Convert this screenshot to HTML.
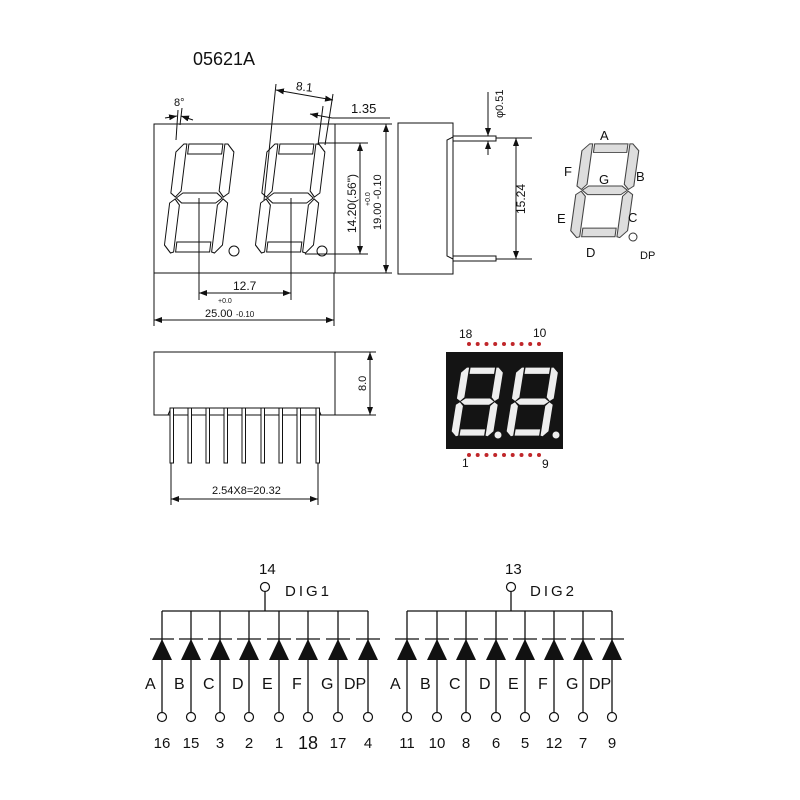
<!DOCTYPE html>
<html><head><meta charset="utf-8"><style>
html,body{margin:0;padding:0;background:#fff;}
svg{display:block;}
text{font-family:"Liberation Sans",sans-serif;fill:#111;}
</style></head><body>
<svg width="800" height="800" viewBox="0 0 800 800" xmlns="http://www.w3.org/2000/svg">
<defs>
<g id="dig">
<polygon points="12,1 46,1 46,11 12,11"/>
<polygon points="0,9 7,1 10,1 10,48 5,54 0,50"/>
<polygon points="58,9 51,1 48,1 48,48 53,54 58,50"/>
<polygon points="6,55 12,50 46,50 52,55 46,60 12,60"/>
<polygon points="0,60 5,56 10,62 10,109 7,110 0,102"/>
<polygon points="58,60 53,56 48,62 48,109 51,110 58,102"/>
<polygon points="12,99 46,99 46,109 12,109"/>
</g>
<g id="diode">
<line x1="0" y1="0" x2="0" y2="101" stroke="#111" stroke-width="1.3"/>
<line x1="-12" y1="28" x2="12" y2="28" stroke="#111" stroke-width="1.3"/>
<polygon points="0,28 -10,49 10,49" fill="#111"/>
<circle cx="0" cy="106" r="4.5" fill="#fff" stroke="#111" stroke-width="1.2"/>
</g>
<marker id="ar" markerWidth="8" markerHeight="6" refX="8" refY="3" orient="auto-start-reverse" markerUnits="userSpaceOnUse"><path d="M0,0 L8,3 L0,6 z" fill="#111"/></marker>
</defs>

<text x="193" y="65" font-size="18">05621A</text>

<!-- front view -->
<g fill="#fff" stroke="#111" stroke-width="1">
<rect x="154" y="124" width="181" height="149"/>
<g transform="translate(177,143) skewX(-7)"><use href="#dig"/></g>
<g transform="translate(268,143) skewX(-7)"><use href="#dig"/></g>
<circle cx="234" cy="251" r="5"/>
<circle cx="322" cy="251" r="5"/>
</g>
<g stroke="#111" stroke-width="1" fill="none">
<line x1="199" y1="198" x2="199" y2="300"/>
<line x1="291" y1="198" x2="291" y2="300"/>
<line x1="199" y1="293" x2="291" y2="293" marker-start="url(#ar)" marker-end="url(#ar)"/>
<line x1="154" y1="273" x2="154" y2="326"/>
<line x1="334" y1="273" x2="334" y2="326"/>
<line x1="154" y1="320" x2="334" y2="320" marker-start="url(#ar)" marker-end="url(#ar)"/>
<line x1="335" y1="124" x2="392" y2="124"/>
<line x1="335" y1="273" x2="392" y2="273"/>
<line x1="386" y1="124" x2="386" y2="273" marker-start="url(#ar)" marker-end="url(#ar)"/>
<line x1="318" y1="143" x2="368" y2="143"/>
<line x1="305" y1="254" x2="368" y2="254"/>
<line x1="360" y1="143" x2="360" y2="254" marker-start="url(#ar)" marker-end="url(#ar)"/>
<line x1="276" y1="84" x2="264" y2="200"/>
<line x1="333" y1="94" x2="325" y2="145"/>
<line x1="276" y1="90" x2="333" y2="100" marker-start="url(#ar)" marker-end="url(#ar)"/>
<line x1="323" y1="106" x2="318" y2="145"/>
<line x1="310" y1="114" x2="332" y2="118" marker-start="url(#ar)"/>
<line x1="332" y1="118" x2="390" y2="118"/>
<line x1="178" y1="110" x2="176" y2="140"/>
<line x1="182" y1="108" x2="180" y2="125"/>
<line x1="165" y1="118" x2="177" y2="116" marker-end="url(#ar)"/>
<line x1="193" y1="120" x2="181" y2="116" marker-end="url(#ar)"/>
</g>
<text x="174" y="106" font-size="11">8°</text>
<text x="296" y="91" font-size="12" transform="rotate(6 305 87)">8.1</text>
<text x="351" y="113" font-size="13">1.35</text>
<text x="233" y="290" font-size="12">12.7</text>
<text x="218" y="303" font-size="7">+0.0</text>
<text x="205" y="317" font-size="11">25.00</text>
<text x="236" y="317" font-size="8">-0.10</text>
<text font-size="12" transform="translate(356,233) rotate(-90)">14.20(.56")</text>
<text font-size="7" transform="translate(370,206) rotate(-90)">+0.0</text>
<text font-size="11" transform="translate(381,230) rotate(-90)">19.00 -0.10</text>

<!-- side view -->
<g stroke="#111" stroke-width="1" fill="none">
<rect x="398" y="123" width="55" height="151" fill="#fff"/>
<path d="M453,137 L447,140 L447,256 L453,259"/>
<path d="M453,136 L496,136 L496,141 L453,141"/>
<path d="M453,256 L496,256 L496,261 L453,261"/>
<line x1="496" y1="138" x2="532" y2="138"/>
<line x1="496" y1="259" x2="532" y2="259"/>
<line x1="516" y1="138" x2="516" y2="259" marker-start="url(#ar)" marker-end="url(#ar)"/>
<line x1="488" y1="92" x2="488" y2="136" marker-end="url(#ar)"/>
<line x1="488" y1="155" x2="488" y2="141" marker-end="url(#ar)"/>
</g>
<text font-size="11" transform="translate(503,118) rotate(-90)">φ0.51</text>
<text font-size="12" transform="translate(525,214) rotate(-90)">15.24</text>

<!-- legend digit -->
<g transform="translate(583,143) scale(0.98,0.86) skewX(-7)" fill="#ddd" stroke="#444" stroke-width="1.1"><use href="#dig"/></g>
<circle cx="633" cy="237" r="4" fill="#fff" stroke="#333"/>
<g font-size="13">
<text x="600" y="140">A</text><text x="564" y="176">F</text><text x="636" y="181">B</text>
<text x="599" y="184">G</text><text x="557" y="223">E</text><text x="628" y="222">C</text>
<text x="586" y="257">D</text><text x="640" y="259" font-size="11">DP</text>
</g>

<!-- bottom view -->
<g stroke="#111" stroke-width="1" fill="none">
<rect x="154" y="352" width="181" height="63" fill="#fff"/>
<line x1="335" y1="352" x2="376" y2="352"/>
<line x1="335" y1="415" x2="376" y2="415"/>
<line x1="370" y1="352" x2="370" y2="415" marker-start="url(#ar)" marker-end="url(#ar)"/>
<path d="M168,415 L171,408 L318,408 L321,415"/>
<g fill="#fff">
<rect x="170" y="408" width="3.5" height="55"/><rect x="188" y="408" width="3.5" height="55"/>
<rect x="206" y="408" width="3.5" height="55"/><rect x="224" y="408" width="3.5" height="55"/>
<rect x="242" y="408" width="3.5" height="55"/><rect x="261" y="408" width="3.5" height="55"/>
<rect x="279" y="408" width="3.5" height="55"/><rect x="297" y="408" width="3.5" height="55"/>
<rect x="316" y="408" width="3.5" height="55"/>
</g>
<line x1="171" y1="463" x2="171" y2="505"/>
<line x1="318" y1="463" x2="318" y2="505"/>
<line x1="171" y1="499" x2="318" y2="499" marker-start="url(#ar)" marker-end="url(#ar)"/>
</g>
<text font-size="11" transform="translate(366,391) rotate(-90)">8.0</text>
<text x="212" y="494" font-size="11">2.54X8=20.32</text>

<!-- photo -->
<rect x="446" y="352" width="117" height="97" fill="#141414"/>
<g fill="#eee">
<g transform="translate(462,367) scale(0.72,0.63) skewX(-8)"><use href="#dig"/></g>
<g transform="translate(517,367) scale(0.72,0.63) skewX(-8)"><use href="#dig"/></g>
<circle cx="498" cy="435" r="3.5"/><circle cx="556" cy="435" r="3.5"/>
</g>
<g fill="#c0262a">
<circle cx="469" cy="344" r="2"/><circle cx="477.7" cy="344" r="2"/><circle cx="486.5" cy="344" r="2"/><circle cx="495.2" cy="344" r="2"/><circle cx="504" cy="344" r="2"/><circle cx="512.7" cy="344" r="2"/><circle cx="521.5" cy="344" r="2"/><circle cx="530.2" cy="344" r="2"/><circle cx="539" cy="344" r="2"/>
<circle cx="469" cy="455" r="2"/><circle cx="477.7" cy="455" r="2"/><circle cx="486.5" cy="455" r="2"/><circle cx="495.2" cy="455" r="2"/><circle cx="504" cy="455" r="2"/><circle cx="512.7" cy="455" r="2"/><circle cx="521.5" cy="455" r="2"/><circle cx="530.2" cy="455" r="2"/><circle cx="539" cy="455" r="2"/>
</g>
<g font-size="12"><text x="459" y="338">18</text><text x="533" y="337">10</text><text x="462" y="467">1</text><text x="542" y="468">9</text></g>

<!-- schematic 1 -->
<g stroke="#111" stroke-width="1.3">
<line x1="162" y1="611" x2="368" y2="611"/>
<line x1="265" y1="592" x2="265" y2="611"/>
<line x1="407" y1="611" x2="612" y2="611"/>
<line x1="511" y1="592" x2="511" y2="611"/>
</g>
<circle cx="265" cy="587" r="4.5" fill="#fff" stroke="#111" stroke-width="1.2"/>
<circle cx="511" cy="587" r="4.5" fill="#fff" stroke="#111" stroke-width="1.2"/>
<g transform="translate(0,611)">
<use href="#diode" x="162"/><use href="#diode" x="191"/><use href="#diode" x="220"/><use href="#diode" x="249"/>
<use href="#diode" x="279"/><use href="#diode" x="308"/><use href="#diode" x="338"/><use href="#diode" x="368"/>
<use href="#diode" x="407"/><use href="#diode" x="437"/><use href="#diode" x="466"/><use href="#diode" x="496"/>
<use href="#diode" x="525"/><use href="#diode" x="554"/><use href="#diode" x="583"/><use href="#diode" x="612"/>
</g>
<g font-size="15">
<text x="259" y="574">14</text><text x="285" y="596" letter-spacing="3">DIG1</text>
<text x="505" y="574">13</text><text x="530" y="596" letter-spacing="3">DIG2</text>
</g>
<g font-size="16" transform="translate(0,0)">
<text x="145" y="689">A</text><text x="174" y="689">B</text><text x="203" y="689">C</text><text x="232" y="689">D</text>
<text x="262" y="689">E</text><text x="292" y="689">F</text><text x="321" y="689">G</text><text x="344" y="689">DP</text>
<text x="390" y="689">A</text><text x="420" y="689">B</text><text x="449" y="689">C</text><text x="479" y="689">D</text>
<text x="508" y="689">E</text><text x="538" y="689">F</text><text x="566" y="689">G</text><text x="589" y="689">DP</text>
</g>
<g font-size="15" text-anchor="middle">
<text x="162" y="748">16</text><text x="191" y="748">15</text><text x="220" y="748">3</text><text x="249" y="748">2</text>
<text x="279" y="748">1</text><text x="308" y="749" font-size="18">18</text><text x="338" y="748">17</text><text x="368" y="748">4</text>
<text x="407" y="748">11</text><text x="437" y="748">10</text><text x="466" y="748">8</text><text x="496" y="748">6</text>
<text x="525" y="748">5</text><text x="554" y="748">12</text><text x="583" y="748">7</text><text x="612" y="748">9</text>
</g>
</svg>
</body></html>
